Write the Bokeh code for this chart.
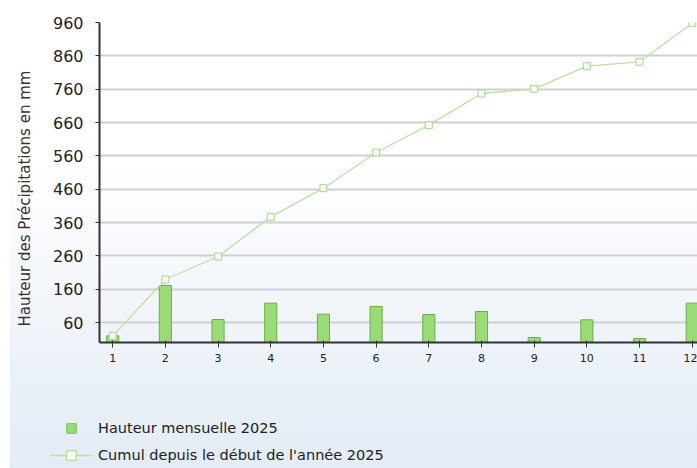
from bokeh.plotting import figure
from bokeh.layouts import column, row
from bokeh.models import (FixedTicker, Legend, LegendItem, Range1d, ColumnDataSource, Title)
from bokeh.embed import file_html
from bokeh.resources import INLINE

months = [1, 2, 3, 4, 5, 6, 7, 8, 9, 10, 11, 12]
monthly = [20, 171, 69, 118, 85, 108, 84, 93, 15, 68, 12, 118]
cumul = [20, 189, 258, 377, 463, 570, 652, 747, 761, 829, 842, 958]
y_ticks = [60, 160, 260, 360, 460, 560, 660, 760, 860, 960]
label_bars = "Hauteur mensuelle 2025"
label_line = "Cumul depuis le début de l'année 2025"
y_title = "Hauteur des Précipitations en mm"

BAR_FILL, BAR_LINE = "#9adb78", "#68b045"
LINE_COL, MK_LINE, MK_FILL = "#bde0a6", "#a9d68e", "#f4fbef"

src = ColumnDataSource(dict(x=months, m=monthly, c=cumul))

p = figure(width=697, height=368, output_backend="svg", toolbar_location=None,
           x_range=Range1d(0.75, 12.10), y_range=Range1d(0, 960),
           min_border_left=99, min_border_right=0, min_border_top=22, min_border_bottom=26)
p.background_fill_alpha = 0
p.border_fill_alpha = 0
p.outline_line_color = None

p.vbar(x="x", top="m", width=0.23, source=src,
       fill_color=BAR_FILL, line_color=BAR_LINE, line_width=1)
p.line(x="x", y="c", source=src, line_color=LINE_COL, line_width=1.3)
p.scatter(x="x", y="c", source=src, marker="square", size=7,
          fill_color=MK_FILL, line_color=MK_LINE, line_width=1)

p.xgrid.visible = False
p.ygrid.grid_line_color = "#d0d0d0"
p.ygrid.grid_line_width = 2

p.yaxis.ticker = FixedTicker(ticks=y_ticks)
p.xaxis.ticker = FixedTicker(ticks=months)
for ax in (p.xaxis, p.yaxis):
    ax.axis_line_color = "#333333"
    ax.major_tick_line_color = "#333333"
    ax.minor_tick_line_color = None
    ax.major_label_text_color = "#222222"
    ax.major_label_text_font = "DejaVu Sans"
p.yaxis.axis_line_width = 2
p.xaxis.axis_line_width = 2
p.yaxis.major_tick_in = 0
p.yaxis.major_tick_out = 4
p.yaxis.major_label_text_font_size = "16px"
p.yaxis.major_label_standoff = 12
p.xaxis.major_tick_in = 2
p.xaxis.major_tick_out = 5
p.xaxis.major_label_text_font_size = "11px"
p.xaxis.major_label_standoff = 6

ytitle = Title(text=y_title, align="left", offset=16, standoff=29, vertical_align="middle",
               text_font="DejaVu Sans", text_font_size="15px",
               text_font_style="normal", text_color="#333333")
p.add_layout(ytitle, "left")

# legend panel: its ranges hold none of the data, so its renderers only feed the legend
leg = figure(width=697, height=100, output_backend="svg", toolbar_location=None,
             x_axis_location=None, y_axis_location=None,
             x_range=Range1d(-2, -1), y_range=Range1d(-2, -1),
             min_border_left=0, min_border_right=0, min_border_top=0, min_border_bottom=0)
leg.grid.visible = False
leg.background_fill_alpha = 0
leg.border_fill_alpha = 0
leg.outline_line_color = None
r_bar = leg.scatter(x="x", y="m", source=src, marker="square", size=12,
                    fill_color=BAR_FILL, line_color="#7cc05a")
r_ln = leg.line(x="x", y="c", source=src, line_color=LINE_COL, line_width=1.3)
r_mk = leg.scatter(x="x", y="c", source=src, marker="square", size=7,
                   fill_color=MK_FILL, line_color=MK_LINE)

legend = Legend(items=[LegendItem(label=label_bars, renderers=[r_bar]),
                       LegendItem(label=label_line, renderers=[r_ln, r_mk])],
                location=(50, 1), orientation="vertical",
                glyph_width=42, glyph_height=24, label_height=24, spacing=3,
                label_standoff=6, padding=0, margin=0,
                label_text_font="DejaVu Sans", label_text_font_size="14.5px",
                label_text_color="#222222",
                background_fill_alpha=0, border_line_color=None)
leg.add_layout(legend, "center")

layout = column(p, row(leg), spacing=0, styles={
    "background": "linear-gradient(to right, #ffffff 10px, transparent 10px), "
                  "linear-gradient(to bottom, #ffffff 0px, #ffffff 160px, #e3ebf5 468px)"})

open("out.html", "w").write(file_html(layout, INLINE))
